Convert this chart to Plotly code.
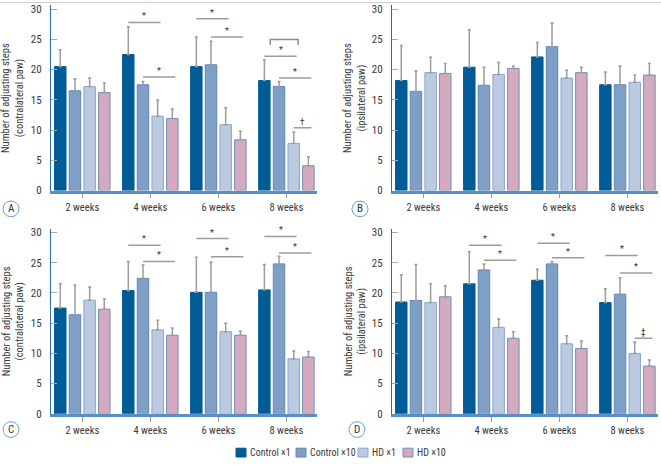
import plotly.graph_objects as go

W, H = 661, 465
FONT = "Liberation Sans Narrow, Roboto Condensed, DejaVu Sans Condensed, Arial Narrow, Roboto, sans-serif"

weeks = ["2 weeks", "4 weeks", "6 weeks", "8 weeks"]
series = ["Control ×1", "Control ×10", "HD ×1", "HD ×10"]
fills = ["#005b96", "#7f9fc6", "#bccae1", "#d5aabf"]
edges = ["#005b96", "#5f87b9", "#86a6cf", "#6a8fc0"]

# Panel A: contralateral paw
A_c1 = [20.5, 22.5, 20.5, 18.2]
A_c10 = [16.5, 17.5, 20.8, 17.2]
A_hd1 = [17.2, 12.3, 10.9, 7.8]
A_hd10 = [16.2, 11.9, 8.4, 4.1]
A_c1_err = [2.8, 4.6, 4.9, 3.4]
A_c10_err = [2.0, 0.55, 3.9, 0.85]
A_hd1_err = [1.4, 2.7, 2.8, 1.9]
A_hd10_err = [1.6, 1.6, 1.4, 1.5]

# Panel B: ipsilateral paw
B_c1 = [18.2, 20.4, 22.1, 17.5]
B_c10 = [16.4, 17.4, 23.8, 17.5]
B_hd1 = [19.5, 19.2, 18.6, 17.9]
B_hd10 = [19.35, 20.2, 19.5, 19.1]
B_c1_err = [5.8, 6.2, 2.4, 2.1]
B_c10_err = [3.4, 3.0, 3.9, 3.1]
B_hd1_err = [2.55, 2.0, 1.3, 1.2]
B_hd10_err = [1.65, 0.4, 0.9, 1.9]

# Panel C: contralateral paw
C_c1 = [17.5, 20.4, 20.1, 20.5]
C_c10 = [16.4, 22.4, 20.1, 24.8]
C_hd1 = [18.8, 13.9, 13.6, 9.1]
C_hd10 = [17.3, 13.0, 13.0, 9.4]
C_c1_err = [4.0, 4.8, 5.8, 4.2]
C_c10_err = [4.9, 2.2, 5.0, 1.25]
C_hd1_err = [2.2, 1.6, 1.4, 1.3]
C_hd10_err = [1.7, 1.2, 0.7, 0.9]

# Panel D: ipsilateral paw
D_c1 = [18.5, 21.5, 22.1, 18.4]
D_c10 = [18.75, 23.8, 24.8, 19.8]
D_hd1 = [18.4, 14.3, 11.6, 10.0]
D_hd10 = [19.35, 12.5, 10.8, 7.9]
D_c1_err = [4.5, 5.3, 1.8, 2.3]
D_c10_err = [5.95, 1.0, 0.4, 2.7]
D_hd1_err = [3.1, 1.4, 1.3, 1.9]
D_hd10_err = [1.85, 1.1, 1.3, 1.0]

# significance markers: (week index, from bar, to bar, height, symbol)
A_sig = [(1, 0, 2, 27.8, "*"), (1, 1, 3, 18.8, "*"), (2, 0, 2, 28.4, "*"), (2, 1, 3, 25.4, "*"),
         (3, 0, 2, 22.2, "*"), (3, 1, 3, 18.6, "*"), (3, 2, 3, 10.4, "†")]
A_bracket = [(3, 0.4, 2.3, 25.0, 0.9)]
C_sig = [(1, 0, 2, 27.9, "*"), (1, 1, 3, 25.2, "*"), (2, 0, 2, 29.0, "*"), (2, 1, 3, 26.0, "*"),
         (3, 0, 2, 29.35, "*"), (3, 1, 3, 26.6, "*")]
D_sig = [(1, 0, 2, 27.9, "*"), (1, 1, 3, 25.4, "*"), (2, 0, 2, 28.2, "*"), (2, 1, 3, 25.8, "*"),
         (3, 0, 2, 26.2, "*"), (3, 1, 3, 23.3, "*"), (3, 2, 3, 12.5, "‡")]

ytitle_contra = "Number of adjusting steps<br>(contralateral paw)"
ytitle_ipsi = "Number of adjusting steps<br>(ipsilateral paw)"

BARGAP = 0.137
PITCH = (1 - BARGAP) / 4


def px(p):
    return p / W


def py(p):
    return 1 - p / H


panels = [
    dict(letter="A", means=[A_c1, A_c10, A_hd1, A_hd10], errs=[A_c1_err, A_c10_err, A_hd1_err, A_hd10_err],
         sig=A_sig, br=A_bracket, title=ytitle_contra, xpx=(51, 317), ypx=(192.3, 3.3), tx=13, lc=(11, 211)),
    dict(letter="B", means=[B_c1, B_c10, B_hd1, B_hd10], errs=[B_c1_err, B_c10_err, B_hd1_err, B_hd10_err],
         sig=[], br=[], title=ytitle_ipsi, xpx=(392, 658), ypx=(192.3, 3.3), tx=355, lc=(360, 211)),
    dict(letter="C", means=[C_c1, C_c10, C_hd1, C_hd10], errs=[C_c1_err, C_c10_err, C_hd1_err, C_hd10_err],
         sig=C_sig, br=[], title=ytitle_contra, xpx=(51, 317), ypx=(420, 231), tx=13, lc=(11, 436)),
    dict(letter="D", means=[D_c1, D_c10, D_hd1, D_hd10], errs=[D_c1_err, D_c10_err, D_hd1_err, D_hd10_err],
         sig=D_sig, br=[], title=ytitle_ipsi, xpx=(392, 658), ypx=(420, 231), tx=355, lc=(357, 436)),
]

fig = go.Figure()
layout = dict(
    width=W, height=H, margin=dict(l=0, r=0, t=0, b=0),
    paper_bgcolor="white", plot_bgcolor="white",
    barmode="group", bargap=BARGAP, bargroupgap=0.22,
    showlegend=False, font=dict(family=FONT, size=11, color="#3a3a3a"),
)
shapes = []
annotations = []

for k, p in enumerate(panels, start=1):
    xa = "x" if k == 1 else f"x{k}"
    ya = "y" if k == 1 else f"y{k}"
    for i in range(4):
        fig.add_trace(go.Bar(
            x=list(range(len(weeks))), y=p["means"][i], name=series[i],
            marker=dict(color=fills[i], line=dict(color=edges[i], width=1)),
            error_y=dict(type="data", array=p["errs"][i], arrayminus=[0] * 4, symmetric=False,
                         color="#9c9c9c", thickness=1.5, width=1.5),
            xaxis=xa, yaxis=ya, showlegend=False,
        ))
    layout["xaxis" if k == 1 else f"xaxis{k}"] = dict(
        domain=[px(p["xpx"][0]), px(p["xpx"][1])], range=[-0.46, 3.45],
        tickvals=list(range(len(weeks))), ticktext=weeks,
        ticks="outside", ticklen=5, tickcolor="#999", tickwidth=1,
        showline=True, linecolor="#5b8fc3", linewidth=2.5,
        showgrid=False, zeroline=False, anchor=ya, fixedrange=True,
        tickfont=dict(family=FONT, size=10.5, color="#3a3a3a"), ticklabelstandoff=0,
    )
    layout["yaxis" if k == 1 else f"yaxis{k}"] = dict(
        domain=[py(p["ypx"][0]), py(p["ypx"][1])], range=[0, 30.65],
        tickvals=[0, 5, 10, 15, 20, 25, 30],
        ticks="inside", ticklen=6, tickcolor="#aaa", tickwidth=1,
        showline=True, linecolor="#2b6ca8", linewidth=1.2,
        showgrid=False, zeroline=False, anchor=xa, fixedrange=True,
        tickfont=dict(family=FONT, size=11, color="#3a3a3a"), ticklabelstandoff=6,
    )
    # y-axis title
    annotations.append(dict(
        text=p["title"], xref="paper", yref="paper",
        x=px(p["tx"]), y=py((p["ypx"][0] + p["ypx"][1]) / 2),
        xanchor="center", yanchor="middle", textangle=-90, showarrow=False,
        font=dict(family=FONT, size=10.5, color="#3a3a3a"),
    ))
    # significance lines
    for (w, i0, i1, yv, sym) in p["sig"]:
        x0 = w + (i0 - 1.5) * PITCH
        x1 = w + (i1 - 1.5) * PITCH + 0.2 * PITCH
        shapes.append(dict(type="line", xref=xa, yref=ya, x0=x0, x1=x1, y0=yv, y1=yv,
                           line=dict(color="#9c9c9c", width=1.5)))
        annotations.append(dict(text=sym, xref=xa, yref=ya, x=(x0 + x1) / 2, y=yv,
                                xanchor="center", yanchor="bottom", showarrow=False, yshift=-1,
                                font=dict(family=FONT, size=9, color="#333333")))
    for (w, i0, i1, yv, drop) in p["br"]:
        x0 = w + (i0 - 1.5) * PITCH
        x1 = w + (i1 - 1.5) * PITCH
        shapes.append(dict(type="path", xref=xa, yref=ya,
                           path=f"M {x0},{yv - drop} L {x0},{yv} L {x1},{yv} L {x1},{yv - drop}",
                           line=dict(color="#8a8a8a", width=1.5)))
    # panel letter in circle
    cx, cy = p["lc"]
    shapes.append(dict(type="circle", xref="paper", yref="paper",
                       x0=px(cx - 8), x1=px(cx + 8), y0=py(cy + 8), y1=py(cy - 8),
                       line=dict(color="#6aa0d4", width=1)))
    annotations.append(dict(text=p["letter"], xref="paper", yref="paper", x=px(cx), y=py(cy),
                            xanchor="center", yanchor="middle", showarrow=False,
                            font=dict(family=FONT, size=11, color="#333")))

# top border line
shapes.append(dict(type="line", xref="paper", yref="paper", x0=0, x1=1, y0=py(0.5), y1=py(0.5),
                   line=dict(color="#cfcfcf", width=1)))

# legend (manual, compact)
leg_x = [236, 296, 358, 403]
for i, name in enumerate(series):
    shapes.append(dict(type="rect", xref="paper", yref="paper",
                       x0=px(leg_x[i]), x1=px(leg_x[i] + 10), y0=py(464), y1=py(455),
                       fillcolor=fills[i], line=dict(color=edges[i], width=1)))
    annotations.append(dict(text=name, xref="paper", yref="paper", x=px(leg_x[i] + 12), y=py(459.5),
                            xanchor="left", yanchor="middle", showarrow=False,
                            font=dict(family=FONT, size=10, color="#3a3a3a")))

layout["shapes"] = shapes
layout["annotations"] = annotations
fig.update_layout(**layout)
fig.write_html(
    "out.html",
    config={"displayModeBar": False},
    post_script="document.body.style.margin='0px';document.body.style.padding='0px';"
                "document.documentElement.style.overflow='hidden';",
)
